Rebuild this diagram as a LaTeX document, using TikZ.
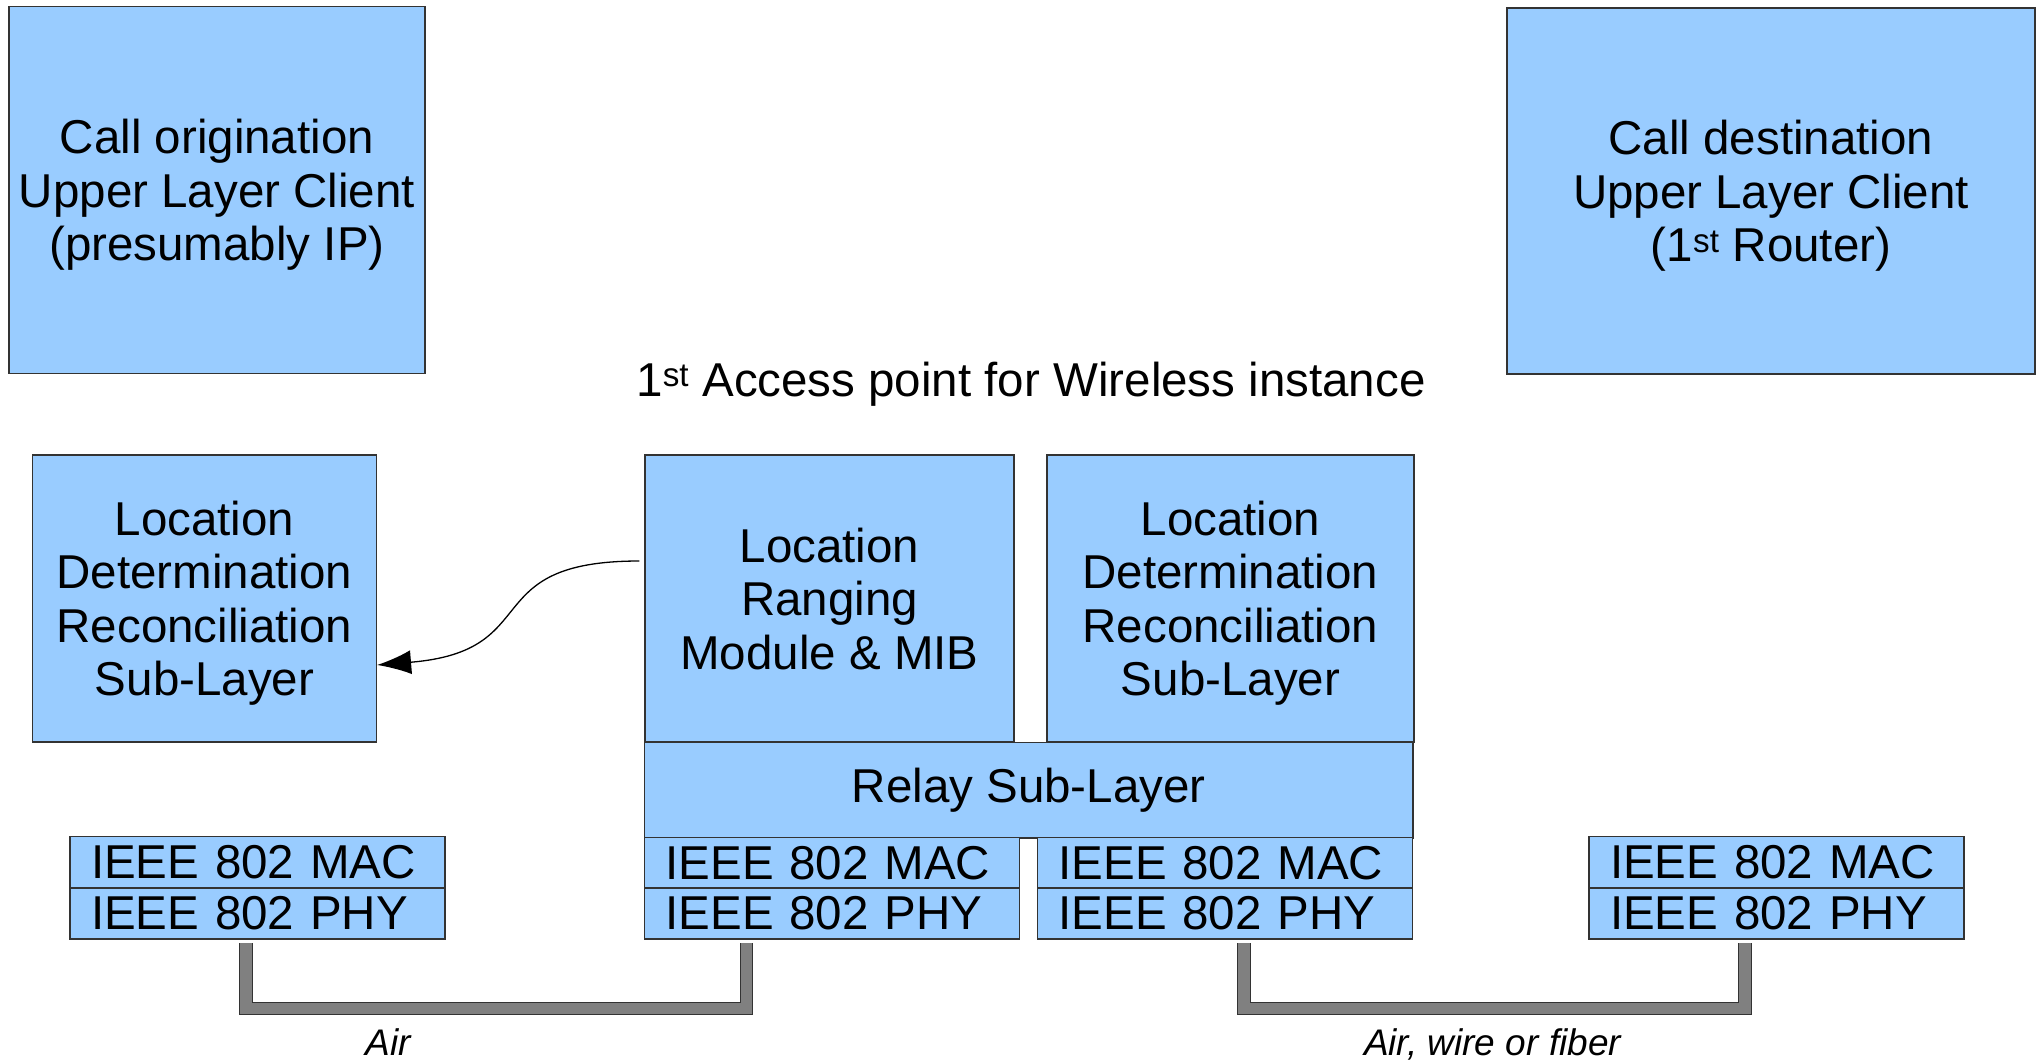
\documentclass[tikz,border=0pt]{standalone}
\usepackage{fontspec}
\setmainfont{Liberation Sans}
\usetikzlibrary{arrows.meta}
\definecolor{boxblue}{HTML}{99CCFF}
\begin{document}
\begin{tikzpicture}[x=1pt,y=-1pt,
  box/.style={draw=black!80, line width=1.2pt, fill=boxblue, inner sep=0pt,
    align=center, text depth=0pt, font=\fontsize{47.5}{53.5}\selectfont},
  layerbox/.style={draw=black!80, line width=1.2pt, fill=boxblue, inner ysep=0pt,
    inner xsep=21pt, text width=333pt, minimum height=51pt, align=left,
    font=\fontsize{47.5}{53.5}\selectfont},
  medium/.style={draw=black!80, line width=1.2pt, double=black!50, double distance=11.5pt,
    line join=miter, line cap=butt},
  lbl/.style={font=\fontsize{37}{42}\selectfont\itshape, inner sep=0pt, anchor=base},
  arr/.style={line width=1.3pt, -{Latex[length=34pt,width=24pt]}}
]
\useasboundingbox (0,0) rectangle (2039,1062);

% upper layer clients
\node[box, minimum width=416pt, minimum height=367pt] (orig) at (217,190)
  {Call origination\\Upper Layer Client\\(presumably IP)};
\node[box, minimum width=528pt, minimum height=366pt] (dest) at (1771,191)
  {Call destination\\Upper Layer Client\\(1\textsuperscript{st} Router)};

% title
\node[font=\fontsize{47.5}{53.5}\selectfont, inner sep=0pt, anchor=base] (title) at (1031,396)
  {1\textsuperscript{st} Access point for Wireless instance};

% location boxes
\node[box, minimum width=344pt, minimum height=287pt] (ldrL) at (204.5,598.5)
  {Location\\Determination\\Reconciliation\\Sub-Layer};
\node[box, minimum width=369pt, minimum height=287pt] (rng) at (829.5,598.5)
  {Location\\Ranging\\Module \& MIB};
\node[box, minimum width=367pt, minimum height=287pt] (ldrR) at (1230.5,598.5)
  {Location\\Determination\\Reconciliation\\Sub-Layer};

% relay
\node[box, text depth=, minimum width=768.5pt, minimum height=95.5pt] (relay) at (1028.75,790.25)
  {Relay Sub-Layer};

% MAC / PHY stacks
\node[layerbox] (macL)  at (257.5,862) {IEEE 802 MAC};
\node[layerbox] (phyL)  at (257.5,913.5) {IEEE 802 PHY};
\node[layerbox] (macM1) at (832,863) {IEEE 802 MAC};
\node[layerbox] (phyM1) at (832,913.5) {IEEE 802 PHY};
\node[layerbox] (macM2) at (1225,863) {IEEE 802 MAC};
\node[layerbox] (phyM2) at (1225,913.5) {IEEE 802 PHY};
\node[layerbox] (macR)  at (1776.5,862) {IEEE 802 MAC};
\node[layerbox] (phyR)  at (1776.5,913.5) {IEEE 802 PHY};

% media
\coordinate (a1) at (246,943);
\coordinate (a2) at (746.5,943);
\coordinate (b1) at (1244,943);
\coordinate (b2) at (1745,943);
\draw[medium] (a1) |- (746.5,1008.5) -- (a2);
\draw[medium] (b1) |- (1745,1008.5) -- (b2);
\node[lbl] (airA) at (388,1055) {Air};
\node[lbl] (airB) at (1492.5,1055) {Air, wire or fiber};

% ranging -> reconciliation
\draw[arr] ([xshift=-5pt,yshift=37.5pt]rng.west)
  .. controls +(-165,0) and +(170,-14) .. ([yshift=-66.5pt]ldrL.east);
\end{tikzpicture}
\end{document}
